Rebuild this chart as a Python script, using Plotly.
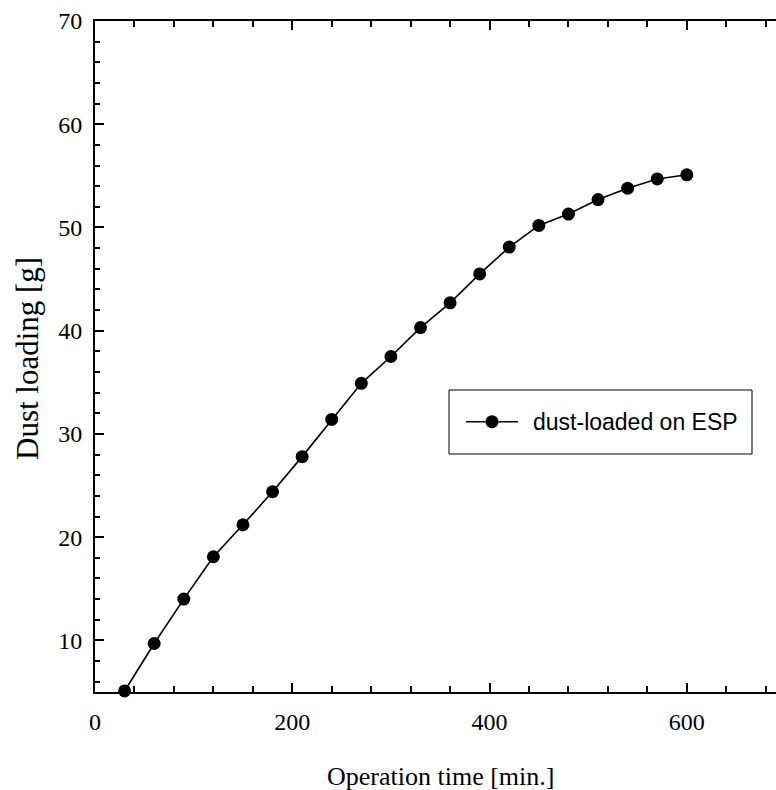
import plotly.graph_objects as go

# Operation time [min.] and dust collected on the ESP [g]
time_min = [30, 60, 90, 120, 150, 180, 210, 240, 270, 300,
            330, 360, 390, 420, 450, 480, 510, 540, 570, 600]
dust_g = [5.1, 9.7, 14.0, 18.1, 21.2, 24.4, 27.8, 31.4, 34.9, 37.5,
          40.3, 42.7, 45.5, 48.1, 50.2, 51.3, 52.7, 53.8, 54.7, 55.1]
series_name = "dust-loaded on ESP"
x_title = "Operation time [min.]"
y_title = "Dust loading [g]"

W, H = 776, 790
ML, MR, MT, MB = 95, 0, 21, 98
PW, PH = W - ML - MR, H - MT - MB


def px(x):
    return (x - ML) / PW


def py(y):
    return (H - MB - y) / PH


serif = "Liberation Serif, Times New Roman, serif"
sans = "Liberation Sans, Arial, sans-serif"

fig = go.Figure()
fig.add_trace(go.Scatter(
    x=time_min, y=dust_g, mode="lines+markers", name=series_name,
    line=dict(color="black", width=1.6),
    marker=dict(color="black", size=13, line=dict(width=0)),
    cliponaxis=False, showlegend=False,
))

axis_common = dict(
    showline=True, linecolor="black", linewidth=2,
    ticks="inside", tickcolor="black", tickwidth=2, ticklen=9,
    showgrid=False, zeroline=False,
    tickfont=dict(family=serif, size=24, color="black"),
)

fig.update_xaxes(
    range=[0, 690.4], tick0=0, dtick=200, mirror="allticks",
    minor=dict(ticks="inside", dtick=40, tick0=0, ticklen=6,
               tickwidth=2, tickcolor="black", showgrid=False),
    ticklabelstandoff=7,
    **axis_common,
)
fig.update_yaxes(
    range=[5, 70], tick0=0, dtick=10, mirror=False,
    minor=dict(ticks="inside", dtick=2, tick0=0, ticklen=5,
               tickwidth=2, tickcolor="black", showgrid=False),
    ticklabelstandoff=6,
    **axis_common,
)

# Legend box drawn in paper coordinates
lx0, lx1, ly0, ly1 = 449, 752, 390, 454
ly_mid = 421.7
shapes = [
    dict(type="rect", xref="paper", yref="paper",
         x0=px(lx0), x1=px(lx1), y0=py(ly1), y1=py(ly0),
         line=dict(color="black", width=1), fillcolor="white", layer="above"),
    dict(type="line", xref="paper", yref="paper",
         x0=px(466), x1=px(518), y0=py(ly_mid), y1=py(ly_mid),
         line=dict(color="black", width=1.6), layer="above"),
    dict(type="circle", xref="paper", yref="paper",
         x0=px(492 - 6.5), x1=px(492 + 6.5),
         y0=py(ly_mid + 6.5), y1=py(ly_mid - 6.5),
         line=dict(width=0), fillcolor="black", layer="above"),
]

annotations = [
    dict(text=series_name, xref="paper", yref="paper",
         x=px(531), y=py(ly_mid), xanchor="left", yanchor="middle",
         showarrow=False, font=dict(family=sans, size=23, color="black")),
    dict(text=x_title, xref="paper", yref="paper",
         x=px(440), y=py(776), xanchor="center", yanchor="middle",
         showarrow=False, font=dict(family=serif, size=26, color="black")),
    dict(text=y_title, xref="paper", yref="paper",
         x=px(27), y=py(359), xanchor="center", yanchor="middle",
         textangle=-90, showarrow=False,
         font=dict(family=serif, size=31, color="black")),
]

fig.update_layout(
    width=W, height=H,
    margin=dict(l=ML, r=MR, t=MT, b=MB, pad=0),
    paper_bgcolor="white", plot_bgcolor="white",
    showlegend=False, shapes=shapes, annotations=annotations,
)

fig.write_html("out.html")
